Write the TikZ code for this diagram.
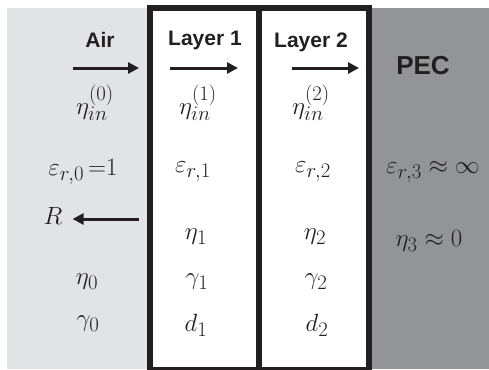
\documentclass[tikz,border=0pt]{standalone}
\usepackage{fontspec}
\setsansfont{Liberation Sans}
\usetikzlibrary{
    positioning,
    arrows.meta
}
\definecolor{airgray}{HTML}{E2E3E5}
\definecolor{pecgray}{HTML}{939498}
\definecolor{inkblack}{HTML}{231F20}

\begin{document}
\begin{tikzpicture}[
      x=1pt, y=-1pt,
      heading/.style={font=\sffamily\bfseries\fontsize{21}{24}\selectfont, text=inkblack, inner sep=0pt},
      quantity/.style={font=\fontsize{29}{34}\selectfont, text=inkblack, inner sep=0pt},
      wave/.style={-{Triangle[length=11pt,width=11pt]}, line width=3pt, draw=inkblack},
      wall/.style={line width=6pt, draw=inkblack}
    ]
    \useasboundingbox (0,0) rectangle (489,369);

    % media
    \fill[airgray] (7,8) rectangle (150,369);
    \fill[pecgray] (368,8) rectangle (489,369);
    \draw[wall] (150,8.5) rectangle (368.5,369.5);
    \draw[wall] (259,8.5) -- (259,369.5);

    % headings
    \node[heading] (air) at (100,40) {Air};
    \node[heading] (lay1) at (205,40) {Layer 1};
    \node[heading] (lay2) at (311,42) {Layer 2};
    \node[heading, font=\sffamily\bfseries\fontsize{26}{30}\selectfont] (pec) at (423,66) {PEC};

    % incident direction
    \coordinate (a0s) at (73,68);  \coordinate (a0e) at (139,68);
    \coordinate (a1s) at (170,68); \coordinate (a1e) at (238,68);
    \coordinate (a2s) at (292,68); \coordinate (a2e) at (359,68);
    \draw[wave] (a0s) -- (a0e);
    \draw[wave] (a1s) -- (a1e);
    \draw[wave] (a2s) -- (a2e);

    \node[quantity] (in0) at (95,103) {$\eta_{in}^{(0)}$};
    \node[quantity] (in1) at (198,103) {$\eta_{in}^{(1)}$};
    \node[quantity] (in2) at (311,103) {$\eta_{in}^{(2)}$};

    \node[quantity] (eps0) at (83,172) {$\varepsilon_{r,0} \,{=}1$};
    \node[quantity] (eps1) at (193,172) {$\varepsilon_{r,1}$};
    \node[quantity] (eps2) at (313,172) {$\varepsilon_{r,2}$};
    \node[quantity] (eps3) at (433,172) {$\varepsilon_{r,3} \approx \infty$};

    % reflection
    \node[quantity] (refl) at (53,216) {$R$};
    \coordinate (rs) at (139,219);
    \draw[wave] (rs) -- ([xshift=10pt,yshift=-3pt]refl.east);

    \node[quantity] (eta1) at (196,237) {$\eta_1$};
    \node[quantity] (eta2) at (315,237) {$\eta_2$};
    \node[quantity] (eta3) at (429,241) {$\eta_3 \approx 0$};

    \node[quantity] (eta0) at (87,282) {$\eta_0$};
    \node[quantity] (gam1) at (197,282) {$\gamma_1$};
    \node[quantity] (gam2) at (316,282) {$\gamma_2$};

    \node[quantity] (gam0) at (88,324) {$\gamma_0$};
    \node[quantity] (d1) at (196,325) {$d_1$};
    \node[quantity] (d2) at (317,325) {$d_2$};
  \end{tikzpicture}
\end{document}
